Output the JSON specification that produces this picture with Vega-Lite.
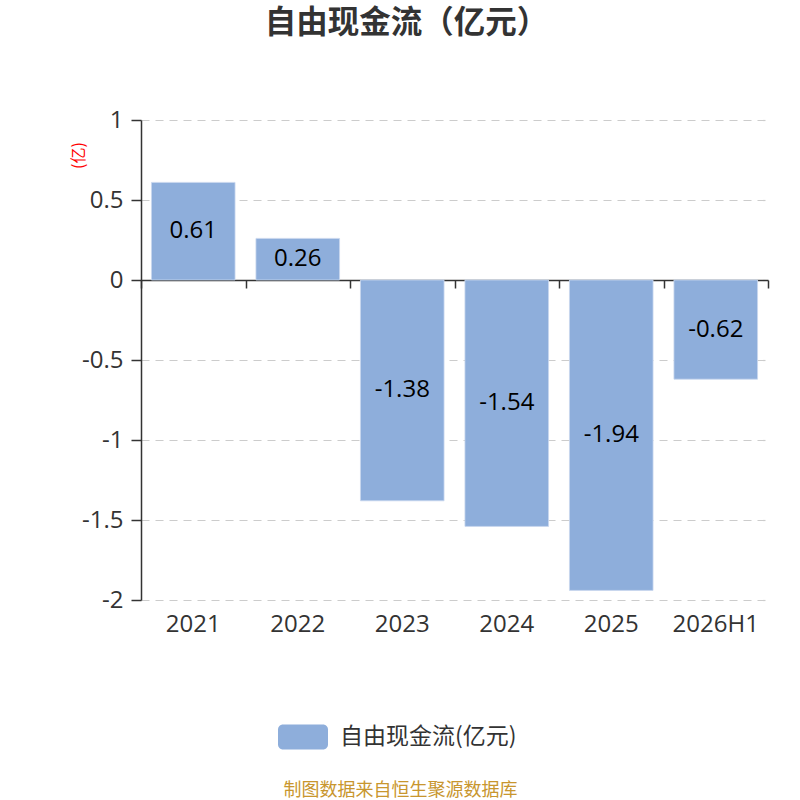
{
  "$schema": "https://vega.github.io/schema/vega-lite/v6.json",
  "width": 627,
  "height": 480,
  "autosize": {"type": "none"},
  "padding": {"left": 141, "top": 120, "right": 32, "bottom": 200},
  "background": "white",
  "title": {
    "text": "自由现金流（亿元）",
    "fontSize": 31.5,
    "fontWeight": "bold",
    "color": "#333333",
    "font": "Noto Sans CJK SC",
    "anchor": "middle",
    "dx": -48,
    "offset": 69
  },
  "config": {
    "font": "Noto Sans CJK SC",
    "view": {"stroke": null}
  },
  "data": {
    "values": [
      {"year": "2021", "v": 0.61},
      {"year": "2022", "v": 0.26},
      {"year": "2023", "v": -1.38},
      {"year": "2024", "v": -1.54},
      {"year": "2025", "v": -1.94},
      {"year": "2026H1", "v": -0.62}
    ]
  },
  "resolve": {
    "scale": {"x": "independent", "y": "independent"},
    "axis": {"x": "independent", "y": "independent"}
  },
  "layer": [
    {
      "mark": {"type": "text", "opacity": 0},
      "encoding": {
        "x": {
          "field": "year",
          "type": "nominal",
          "sort": null,
          "scale": {"paddingInner": 0, "paddingOuter": 0},
          "axis": {
            "orient": "bottom",
            "offset": -320,
            "domain": true,
            "domainColor": "#333333",
            "domainWidth": 1.5,
            "ticks": true,
            "tickBand": "extent",
            "tickColor": "#333333",
            "tickSize": 8,
            "tickWidth": 1.5,
            "labels": false,
            "grid": false,
            "title": null,
            "zindex": 0
          }
        },
        "y": {"field": "v", "type": "quantitative", "axis": null, "scale": {"domain": [-2, 1], "nice": false}},
        "text": {"field": "year", "type": "nominal"}
      }
    },
    {
      "mark": {"type": "bar", "stroke": "#c9d8ef", "strokeWidth": 0.8},
      "encoding": {
        "x": {
          "field": "year",
          "type": "nominal",
          "sort": null,
          "scale": {"paddingInner": 0.2, "paddingOuter": 0.1},
          "axis": {
            "orient": "bottom",
            "domain": false,
            "ticks": false,
            "grid": false,
            "labelAngle": 0,
            "labelFont": "Open Sans",
            "labelFontSize": 24,
            "labelColor": "#333333",
            "labelPadding": 12,
            "title": "制图数据来自恒生聚源数据库",
            "titleColor": "#c8962e",
            "titleFontSize": 18,
            "titleFontWeight": "normal",
            "titleX": 259,
            "titleY": 190,
            "titleAlign": "center",
            "titleBaseline": "middle",
            "zindex": 0
          }
        },
        "y": {
          "field": "v",
          "type": "quantitative",
          "title": "(亿)",
          "scale": {"domain": [-2, 1], "nice": false},
          "axis": {
            "values": [-2, -1.5, -1, -0.5, 0, 0.5, 1],
            "labelExpr": "replace(format(datum.value, '~g'), '−', '-')",
            "grid": true,
            "gridColor": "#cccccc",
            "gridDash": [8, 6],
            "gridWidth": 1.2,
            "domain": true,
            "domainColor": "#333333",
            "domainWidth": 1.5,
            "ticks": true,
            "tickColor": "#333333",
            "tickSize": 10,
            "tickWidth": 1.5,
            "labelFont": "Open Sans",
            "labelFontSize": 24,
            "labelColor": "#333333",
            "labelPadding": 8,
            "titleColor": "#ff0000",
            "titleFontSize": 16,
            "titleFontWeight": "normal",
            "titleX": -63,
            "titleY": 35,
            "titleAlign": "center",
            "titleBaseline": "middle",
            "titleAngle": -90,
            "zindex": 0
          }
        },
        "color": {
          "datum": "自由现金流(亿元)",
          "scale": {"range": ["#8eaedb"]},
          "legend": {
            "orient": "none",
            "legendX": 137,
            "legendY": 592,
            "title": null,
            "direction": "horizontal",
            "symbolType": "M-0.8,-0.5H0.8A0.2,0.2 0 0 1 1,-0.3V0.3A0.2,0.2 0 0 1 0.8,0.5H-0.8A0.2,0.2 0 0 1 -1,0.3V-0.3A0.2,0.2 0 0 1 -0.8,-0.5Z",
            "symbolSize": 2500,
            "symbolStrokeWidth": 0,
            "symbolOpacity": 1,
            "labelFontSize": 23,
            "labelColor": "#333333",
            "labelOffset": 12,
            "labelLimit": 400
          }
        }
      }
    },
    {
      "mark": {"type": "text", "fontSize": 24, "font": "Open Sans", "color": "#000000", "baseline": "middle", "align": "center"},
      "encoding": {
        "x": {"field": "year", "type": "nominal", "sort": null, "axis": null, "scale": {"paddingInner": 0.2, "paddingOuter": 0.1}},
        "y": {"field": "v", "type": "quantitative", "axis": null, "scale": {"domain": [-4, 2], "nice": false}},
        "text": {"field": "v", "type": "nominal"}
      }
    }
  ]
}
